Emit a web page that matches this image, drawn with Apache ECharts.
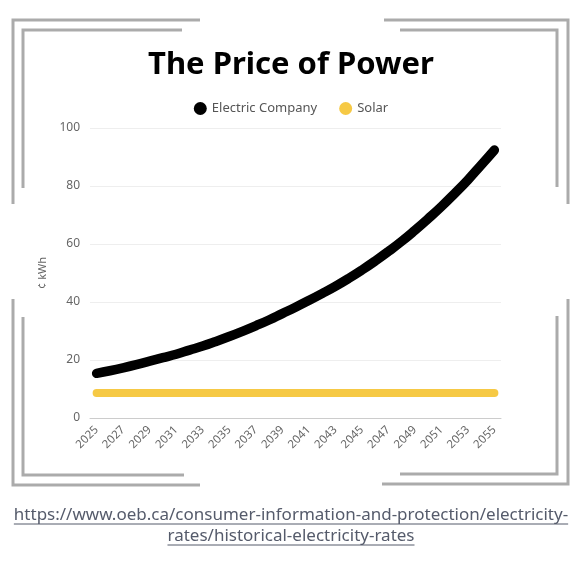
<!DOCTYPE html>
<html>
<head>
<meta charset="utf-8">
<script src="https://cdn.jsdelivr.net/npm/echarts@6/dist/echarts.min.js"></script>
<style>
  html, body { margin: 0; padding: 0; background: #ffffff; }
  #chart { width: 582px; height: 576px; }
</style>
</head>
<body>
<div id="chart"></div>
<script>
// ---- data ----
const years = ['2025','2026','2027','2028','2029','2030','2031','2032','2033','2034',
               '2035','2036','2037','2038','2039','2040','2041','2042','2043','2044',
               '2045','2046','2047','2048','2049','2050','2051','2052','2053','2054','2055'];
const electricCompany = [15.4, 16.3, 17.3, 18.4, 19.6, 20.8, 22.0, 23.4, 24.8, 26.4,
                         28.1, 29.9, 31.8, 33.8, 36.0, 38.2, 40.5, 42.9, 45.4, 48.1,
                         51.0, 54.1, 57.4, 60.9, 64.7, 68.7, 72.9, 77.4, 82.1, 87.2, 92.4];
const solar = [8.6, 8.6, 8.6, 8.6, 8.6, 8.6, 8.6, 8.6, 8.6, 8.6,
               8.6, 8.6, 8.6, 8.6, 8.6, 8.6, 8.6, 8.6, 8.6, 8.6,
               8.6, 8.6, 8.6, 8.6, 8.6, 8.6, 8.6, 8.6, 8.6, 8.6, 8.6];
const seriesNames = ['Electric Company', 'Solar'];
const titleText = 'The Price of Power';
const yAxisName = '¢ kWh';
const sourceLines = ['https://www.oeb.ca/consumer-information-and-protection/electricity-',
                     'rates/historical-electricity-rates'];

// ---- decorative frame ----
const frameColor = '#ababab';
const framePaths = [
  [[200,20],[13,20],[13,204]],
  [[13,299],[13,485],[200,485]],
  [[384,20],[568,20],[568,204]],
  [[382,484],[568,484],[568,299]],
  [[182,30],[23,30],[23,188]],
  [[23,317],[23,475],[184,475]],
  [[400,30],[557,30],[557,187]],
  [[400,474],[557,474],[557,316]]
];

const chart = echarts.init(document.getElementById('chart'), null, { renderer: 'canvas' });
const font = '"Noto Sans", sans-serif';
const srcFont = '17px ' + font;
const srcColor = '#555b6b';

// measure source text widths for underline
const mctx = document.createElement('canvas').getContext('2d');
mctx.font = srcFont;

const graphics = framePaths.map(p => ({
  type: 'polyline', shape: { points: p },
  style: { stroke: frameColor, lineWidth: 3, fill: null }, silent: true
}));
const srcTops = [507, 528];
sourceLines.forEach((t, i) => {
  graphics.push({
    type: 'text', left: 'center', top: srcTops[i],
    style: { text: t, font: srcFont, fill: srcColor }
  });
  const w = mctx.measureText(t).width;
  graphics.push({
    type: 'line',
    shape: { x1: 291 - w / 2, y1: srcTops[i] + 17, x2: 291 + w / 2, y2: srcTops[i] + 17 },
    style: { stroke: srcColor, lineWidth: 1 }, silent: true
  });
});

const option = {
  backgroundColor: '#ffffff',
  animation: false,
  title: {
    text: titleText, left: 'center', top: 45,
    textStyle: { fontFamily: font, fontSize: 31, fontWeight: 'bolder', color: '#000000' }
  },
  legend: {
    data: seriesNames, top: 97, left: 'center', icon: 'circle',
    itemWidth: 13, itemHeight: 13, itemGap: 22,
    textStyle: { fontFamily: font, fontSize: 13, color: '#555555' }
  },
  grid: { left: 90, right: 81, top: 128, bottom: 158, containLabel: false },
  xAxis: {
    type: 'category', data: years, boundaryGap: true,
    axisLine: { lineStyle: { color: '#cccccc' } },
    axisTick: { show: false },
    axisLabel: { interval: 1, rotate: 45, color: '#666666', fontFamily: font, fontSize: 11.5, margin: 10 }
  },
  yAxis: {
    type: 'value', min: 0, max: 100, interval: 20,
    name: yAxisName, nameLocation: 'middle', nameGap: 40,
    nameTextStyle: { color: '#666666', fontFamily: font, fontSize: 11 },
    axisLine: { show: false }, axisTick: { show: false },
    axisLabel: { color: '#666666', fontFamily: font, fontSize: 12, margin: 10 },
    splitLine: { lineStyle: { color: '#eeeeee' } }
  },
  series: [
    {
      name: seriesNames[0], type: 'line', data: electricCompany, smooth: true,
      showSymbol: false, color: '#000000',
      lineStyle: { width: 9.5, color: '#000000', cap: 'round', join: 'round' }
    },
    {
      name: seriesNames[1], type: 'line', data: solar,
      showSymbol: false, color: '#f6c945',
      lineStyle: { width: 8, color: '#f6c945', cap: 'round', join: 'round' }
    }
  ],
  graphic: graphics
};
chart.setOption(option);
</script>
</body>
</html>
